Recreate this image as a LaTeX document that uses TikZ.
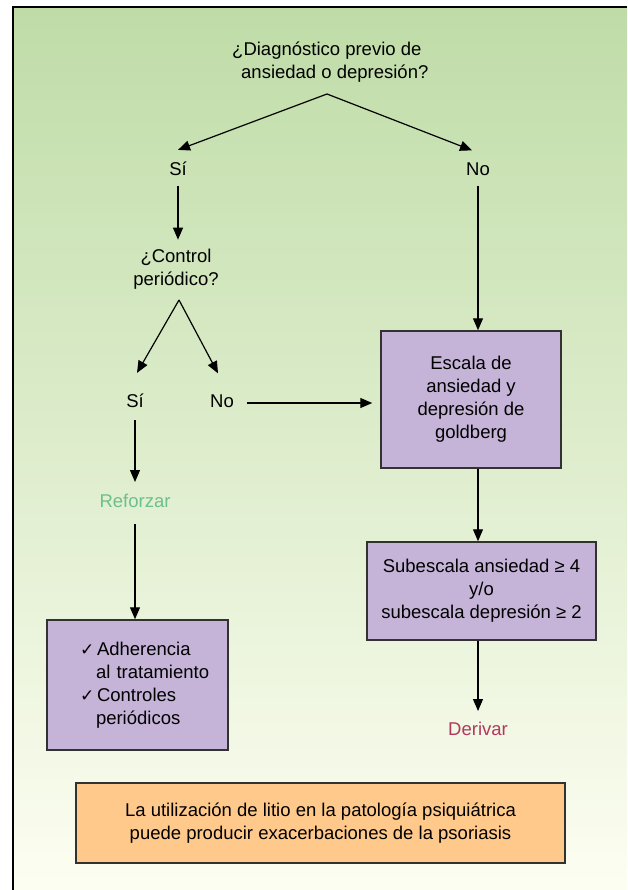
\documentclass[tikz,border=0pt]{standalone}
\usepackage{fontspec}
\setmainfont{Liberation Sans}
\newfontfamily\symfont{DejaVu Sans}
\usetikzlibrary{arrows.meta}
\definecolor{bgtop}{RGB}{191,220,167}
\definecolor{bgbot}{RGB}{253,254,242}
\definecolor{boxpurple}{RGB}{197,180,216}
\definecolor{boxorange}{RGB}{255,201,139}
\definecolor{boxline}{RGB}{50,50,50}
\definecolor{refgreen}{RGB}{108,192,138}
\definecolor{derred}{RGB}{178,56,94}
\newcommand{\chkmark}{\makebox[17pt][l]{\symfont\fontsize{17}{17}\selectfont ✓}}
\begin{document}
\begin{tikzpicture}[x=1pt,y=-1pt,
  txt/.style={inner sep=0pt, font=\fontsize{18.5}{23}\selectfont},
  box/.style={draw=boxline, line width=1.5pt, fill=boxpurple, inner sep=0pt, align=center, font=\fontsize{18.5}{23}\selectfont},
  arr/.style={line width=1.2pt, -{Triangle[length=12pt,width=10pt]}},
]
\useasboundingbox (0,0) rectangle (627,890);
\fill[top color=bgtop, bottom color=bgbot] (13,7) rectangle (627,890);
\draw[line width=1.5pt] (13,890) -- (13,7) -- (627,7);

% nodes
\node[txt, anchor=west, align=left] (q1) at (232,62) {¿Diagnóstico previo de\\\hspace*{9pt}ansiedad o depresión?};
\coordinate (apex) at (327,94);
\node[txt] (si1) at (178,169) {Sí};
\node[txt] (no1) at (478,169) {No};
\node[txt, align=center] (ctrl) at (176,269) {¿Control\\periódico?};
\coordinate (apex2) at (179,300);
\node[txt] (si2) at (135,401) {Sí};
\node[txt] (no2) at (222,401) {No};
\node[box, minimum width=180pt, minimum height=137pt] (esc) at (471,399.5) {Escala de\\ansiedad y\\depresión de\\goldberg};
\node[box, minimum width=229pt, minimum height=98pt] (sub) at (481.5,591) {Subescala ansiedad ≥ 4\\y/o\\subescala depresión ≥ 2};
\node[txt, text=derred] (der) at (478,729) {Derivar};
\node[txt, text=refgreen] (ref) at (135,501) {Reforzar};
\node[box, minimum width=181pt, minimum height=130pt, text width=115pt, align=left] (chk) at (137.5,685)
  {\chkmark Adherencia\\\hspace*{16pt}\mbox{al tratamiento}\\\chkmark Controles\\\hspace*{16pt}periódicos};
\node[box, fill=boxorange, minimum width=489pt, minimum height=80pt] (bot) at (320.5,823)
  {La utilización de litio en la patología psiquiátrica\\puede producir exacerbaciones de la psoriasis};

% connectors
\draw[arr] (apex) -- ([yshift=12pt]si1.north);
\draw[arr] (apex) -- ([xshift=-6pt,yshift=12pt]no1.north);
\draw[arr,shorten <=10pt] (si1.south) -- ([yshift=9pt]si1.south |- ctrl.north);
\draw[arr] (apex2) -- ([xshift=2pt,yshift=21pt]si2.north);
\draw[arr] (apex2) -- ([xshift=-4pt,yshift=21pt]no2.north);
\draw[arr,shorten <=13pt,shorten >=8pt,transform canvas={yshift=-2pt}] (no2.east) -- (no2.east -| esc.west);
\draw[arr,shorten <=10pt] (no1.south) -- (no1.south |- esc.north);
\draw[arr] (no1.south |- esc.south) -- (no1.south |- sub.north);
\draw[arr,shorten >=11pt] (no1.south |- sub.south) -- (der.north);
\draw[arr,shorten <=12pt,shorten >=12pt] (si2.south) -- (ref.north);
\draw[arr,shorten <=16pt] (ref.south) -- (ref.south |- chk.north);
\end{tikzpicture}
\end{document}
